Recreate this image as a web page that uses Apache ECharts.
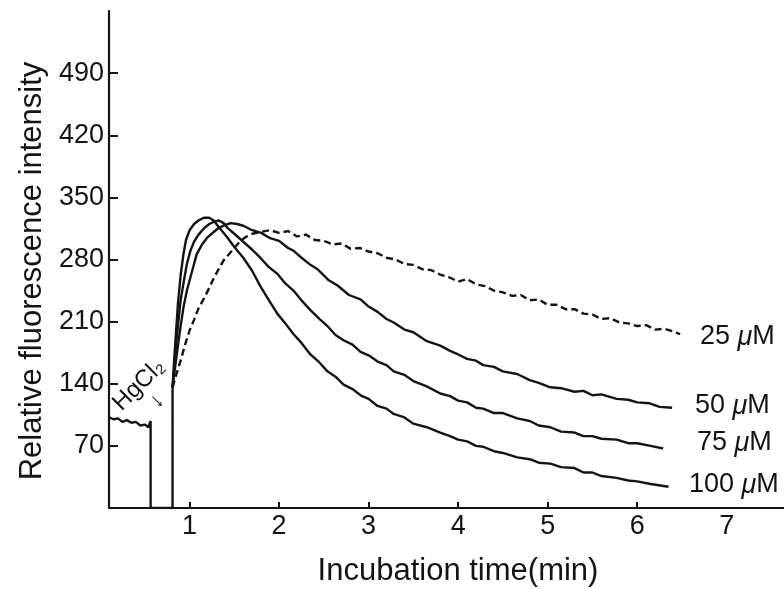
<!DOCTYPE html>
<html><head><meta charset="utf-8">
<script src="https://cdn.jsdelivr.net/npm/echarts@6/dist/echarts.min.js"></script>
<style>html,body{margin:0;padding:0;background:#fff}#c{width:784px;height:589px}</style>
</head><body><div id="c"></div>
<script>
// pre-injection trace (shared)
const traceX = [0.1, 0.15, 0.2, 0.25, 0.3, 0.35, 0.4, 0.45, 0.5, 0.54, 0.565, 0.565, 0.81, 0.81];
const traceY = [102, 100, 101, 97, 99, 96, 97, 93, 94, 91, 98, 0, 0, 136];

const x25 = [0.81,0.85,0.9,0.95,1.0,1.05,1.1,1.16,1.22,1.27,1.33,1.38,1.44,1.5,1.56,1.62,1.7,1.79,1.9,2.0,2.1,2.2,2.3,2.4,2.5,2.6,2.7,2.8,2.9,3.0,3.1,3.2,3.3,3.4,3.5,3.6,3.7,3.8,3.9,4.0,4.1,4.2,4.3,4.4,4.5,4.6,4.7,4.8,4.9,5.0,5.1,5.2,5.3,5.4,5.5,5.6,5.7,5.8,5.9,6.0,6.1,6.2,6.3,6.4,6.48];
const y25 = [136,150,166,184,200,212,225,236,248,259,270,279,286,293,300,305,309,311,313,310,312,306,308,302,301,297,298,292,293,289,287,282,280,275,274,269,268,263,260,255,258,252,250,245,243,239,240,234,235,229,229,224,224,219,218,213,214,209,208,205,206,201,202,199,196];

const x50 = [0.81,0.84,0.86,0.9,0.93,0.97,1.01,1.05,1.08,1.14,1.2,1.27,1.33,1.4,1.46,1.53,1.6,1.7,1.8,1.9,2.0,2.1,2.16,2.25,2.35,2.43,2.55,2.65,2.78,2.91,3.0,3.1,3.2,3.28,3.4,3.5,3.65,3.8,3.91,4.0,4.1,4.2,4.28,4.4,4.5,4.66,4.8,4.9,5.03,5.15,5.3,5.4,5.5,5.6,5.77,5.9,6.0,6.14,6.25,6.39];
const y50 = [136,160,175,205,225,245,260,275,286,297,305,311,316,319,321,320,318,313,310,304,301,293,290,282,274,269,257,251,240,235,227,221,213,209,201,198,188,183,177,173,168,166,161,159,154,151,144,141,136,135,131,132,127,128,123,122,119,118,114,113];

const x75 = [0.81,0.83,0.85,0.88,0.9,0.94,0.97,1.01,1.05,1.1,1.16,1.22,1.28,1.33,1.38,1.42,1.5,1.6,1.7,1.79,1.88,1.98,2.07,2.16,2.25,2.35,2.45,2.54,2.63,2.72,2.82,2.91,3.0,3.1,3.2,3.28,3.4,3.5,3.65,3.8,3.91,4.0,4.1,4.2,4.28,4.4,4.5,4.66,4.8,4.9,5.03,5.15,5.3,5.4,5.5,5.6,5.77,5.9,6.0,6.15,6.29];
const y75 = [136,160,185,215,234,258,275,290,300,308,315,320,323,324,321,316,309,300,291,282,272,264,253,245,234,223,213,205,195,189,184,176,172,165,161,154,150,143,137,129,126,121,119,113,112,107,107,101,98,93,91,86,85,81,81,78,77,73,73,70,67];

const x100 = [0.81,0.83,0.85,0.87,0.9,0.93,0.96,1.0,1.05,1.1,1.16,1.22,1.27,1.33,1.42,1.5,1.6,1.7,1.79,1.88,1.98,2.07,2.16,2.25,2.35,2.45,2.54,2.63,2.72,2.82,2.91,3.0,3.1,3.2,3.28,3.4,3.5,3.65,3.8,3.91,4.0,4.1,4.2,4.28,4.4,4.5,4.66,4.8,4.9,5.03,5.15,5.3,5.4,5.5,5.6,5.77,5.9,6.0,6.15,6.35];
const y100 = [136,170,200,230,262,285,302,313,320,324,327,327,324,316,305,294,282,267,250,235,219,208,196,186,173,164,154,148,139,134,127,123,115,112,106,102,95,91,85,81,77,75,70,69,64,62,57,55,51,50,46,45,40,40,36,34,31,30,27,24];

const seriesNames = ['trace','25 μM','50 μM','75 μM','100 μM'];
const labelText = ['25 {i|μ}M','50 {i|μ}M','75 {i|μ}M','100 {i|μ}M'];
const xTicks = [1,2,3,4,5,6];
const xLabels = [1,2,3,4,5,6,7];
const yTicks = [70,140,210,280,350,420,490];

const zip = (a,b) => a.map((v,i)=>[v,b[i]]);
const INK = '#141414';
const FONT = 'Liberation Sans, Arial, sans-serif';

function line(name, data, dashed){
  return {name, type:'line', data, symbol:'none', smooth:false, animation:false,
    lineStyle:{color:INK, width:2.4, type: dashed ? [7,4] : 'solid'}, z: 3};
}

const chart = echarts.init(document.getElementById('c'), null, {renderer:'canvas'});
chart.setOption({
  backgroundColor:'#fff',
  animation:false,
  grid:{left:109, right:0, top:11, bottom:81, containLabel:false},
  xAxis:{type:'value', min:0.1, max:7.64,
    axisLine:{show:true, onZero:false, lineStyle:{color:INK, width:2.2}},
    axisTick:{show:true, inside:true, length:6, customValues:xTicks, lineStyle:{color:INK, width:2}},
    axisLabel:{customValues:xLabels, margin:5, color:INK, fontSize:27, fontFamily:FONT},
    splitLine:{show:false}},
  yAxis:{type:'value', min:0, max:560,
    axisLine:{show:true, lineStyle:{color:INK, width:2.2}},
    axisTick:{show:true, inside:true, length:9, customValues:yTicks, lineStyle:{color:INK, width:2}},
    axisLabel:{customValues:yTicks, margin:5, color:INK, fontSize:27, fontFamily:FONT},
    splitLine:{show:false}},
  series:[
    line(seriesNames[0], zip(traceX, traceY), false),
    line(seriesNames[1], zip(x25, y25), true),
    line(seriesNames[2], zip(x50, y50), false),
    line(seriesNames[3], zip(x75, y75), false),
    line(seriesNames[4], zip(x100, y100), false)
  ],
  graphic:[
    {type:'text', x:32, y:271, rotation:Math.PI/2,
      style:{text:'Relative fluorescence intensity', fill:INK, font:'31px '+FONT, textAlign:'center', textVerticalAlign:'middle'}},
    {type:'text', x:458, y:571,
      style:{text:'Incubation time(min)', fill:INK, font:'31px '+FONT, textAlign:'center', textVerticalAlign:'middle'}},
    {type:'text', x:139, y:385, rotation:0.78,
      style:{text:'HgCl₂', fill:INK, font:'24px '+FONT, textAlign:'center', textVerticalAlign:'middle'}},
    {type:'text', x:157, y:401, rotation:0.78,
      style:{text:'↓', fill:INK, font:'bold 22px '+FONT, textAlign:'center', textVerticalAlign:'middle'}},
    {type:'text', x:700, y:337, style:{text:labelText[0], fill:INK, font:'27px '+FONT, textVerticalAlign:'middle', rich:{i:{fontStyle:'italic', fontSize:27, fontFamily:FONT, fill:INK}}}},
    {type:'text', x:695, y:406, style:{text:labelText[1], fill:INK, font:'27px '+FONT, textVerticalAlign:'middle', rich:{i:{fontStyle:'italic', fontSize:27, fontFamily:FONT, fill:INK}}}},
    {type:'text', x:697, y:443, style:{text:labelText[2], fill:INK, font:'27px '+FONT, textVerticalAlign:'middle', rich:{i:{fontStyle:'italic', fontSize:27, fontFamily:FONT, fill:INK}}}},
    {type:'text', x:689, y:485, style:{text:labelText[3], fill:INK, font:'27px '+FONT, textVerticalAlign:'middle', rich:{i:{fontStyle:'italic', fontSize:27, fontFamily:FONT, fill:INK}}}}
  ]
});
</script></body></html>
